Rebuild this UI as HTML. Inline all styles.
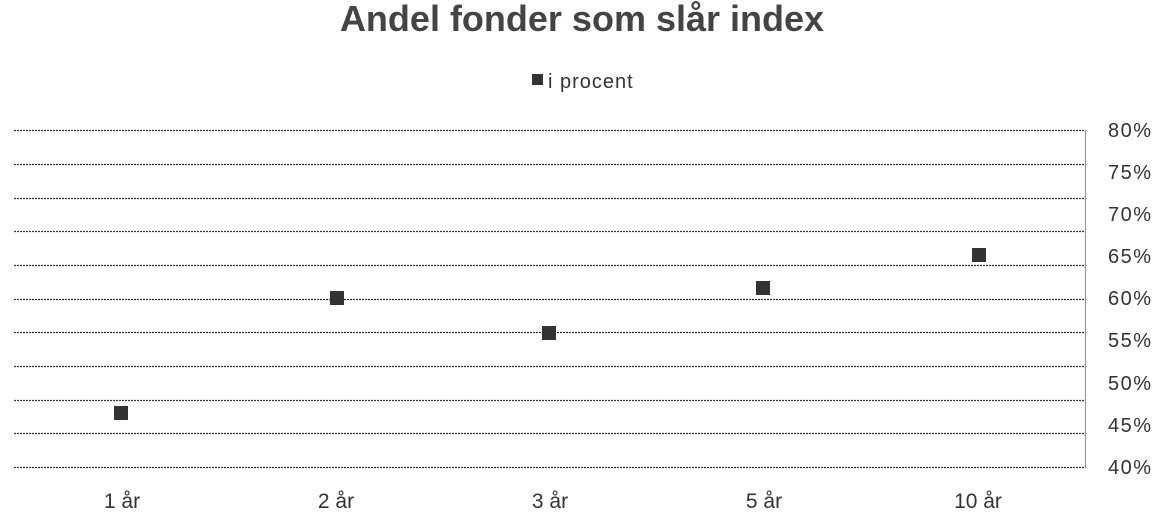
<!DOCTYPE html>
<html><head><meta charset="utf-8"><style>
body{margin:0;background:#fff;}
svg text{font-family:"Liberation Sans",sans-serif;fill:#333;}
</style></head><body>
<svg width="1166" height="516" xmlns="http://www.w3.org/2000/svg">
<text x="582" y="31" text-anchor="middle" font-size="36" font-weight="bold" style="fill:#444">Andel fonder som slår index</text>
<rect x="532" y="74" width="11" height="11" fill="#333"/>
<text x="548" y="88" font-size="20" letter-spacing="1">i procent</text>
<g stroke="#333" stroke-width="1.2" stroke-dasharray="2,1">
<line x1="14" x2="1085" y1="130.5" y2="130.5"/>
<line x1="14" x2="1085" y1="164.5" y2="164.5"/>
<line x1="14" x2="1085" y1="198.5" y2="198.5"/>
<line x1="14" x2="1085" y1="231.5" y2="231.5"/>
<line x1="14" x2="1085" y1="265.5" y2="265.5"/>
<line x1="14" x2="1085" y1="299.5" y2="299.5"/>
<line x1="14" x2="1085" y1="332.5" y2="332.5"/>
<line x1="14" x2="1085" y1="366.5" y2="366.5"/>
<line x1="14" x2="1085" y1="400.5" y2="400.5"/>
<line x1="14" x2="1085" y1="433.5" y2="433.5"/>
<line x1="14" x2="1085" y1="467.5" y2="467.5"/>
</g>
<line x1="1085.5" x2="1085.5" y1="130" y2="468" stroke="#999" stroke-width="1.2"/>
<g font-size="20" letter-spacing="1.5">
<text x="1108" y="137">80%</text>
<text x="1108" y="179">75%</text>
<text x="1108" y="221">70%</text>
<text x="1108" y="263">65%</text>
<text x="1108" y="305">60%</text>
<text x="1108" y="347">55%</text>
<text x="1108" y="390">50%</text>
<text x="1108" y="432">45%</text>
<text x="1108" y="474">40%</text>
</g>
<g fill="#333">
<rect x="114" y="406" width="14" height="14"/>
<rect x="330" y="291" width="14" height="14"/>
<rect x="542" y="326" width="14" height="14"/>
<rect x="756" y="281" width="14" height="14"/>
<rect x="972" y="248" width="14" height="14"/>
</g>
<g font-size="21" text-anchor="middle">
<text x="122" y="508">1 år</text>
<text x="336" y="508">2 år</text>
<text x="550" y="508">3 år</text>
<text x="764" y="508">5 år</text>
<text x="978" y="508">10 år</text>
</g>
</svg>
</body></html>
